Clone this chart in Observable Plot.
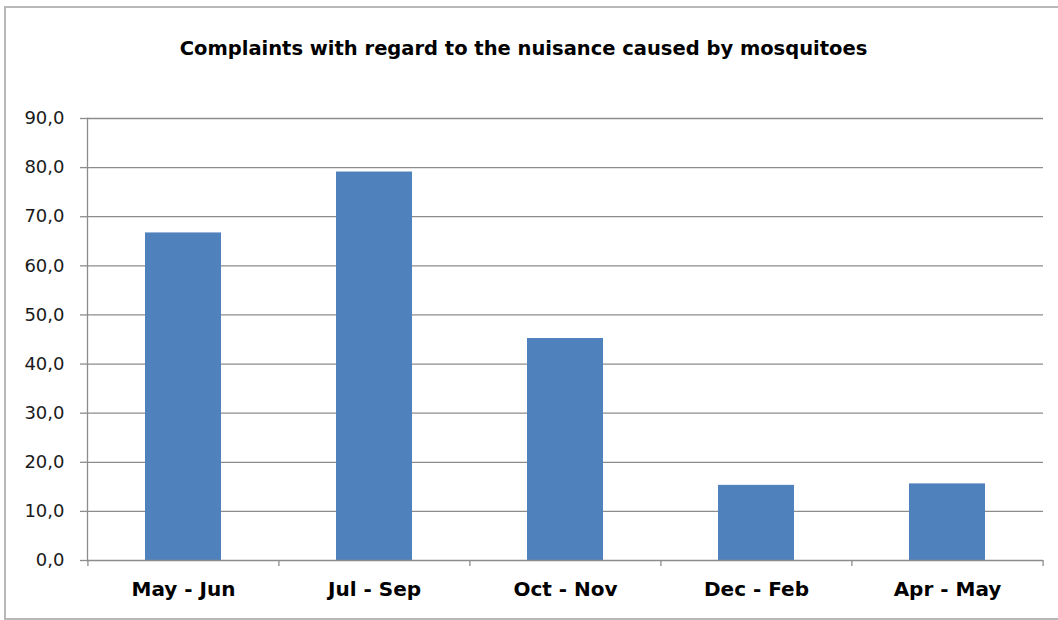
<!DOCTYPE html>
<html>
<head>
<meta charset="utf-8">
<script src="https://cdn.jsdelivr.net/npm/d3@7"></script>
<script src="https://cdn.jsdelivr.net/npm/@observablehq/plot@0.6"></script>
<style>
  html, body { margin: 0; padding: 0; background: #fff; overflow: hidden; }
  #wrap { position: relative; width: 1058px; height: 620px; overflow: hidden; background: #fff; }
  #border { position: absolute; left: 4px; top: 6px; width: 1070px; height: 614px; border: 2px solid #b8b8b8; border-right: none; box-sizing: border-box; pointer-events: none; }
  #title { height: 90px; box-sizing: border-box; padding-top: 38px; padding-right: 11px; text-align: center; font-family: "DejaVu Sans", sans-serif; font-weight: bold; font-size: 19.5px; color: #000; line-height: 22px; white-space: nowrap; }
  #chart svg { display: block; }
</style>
</head>
<body>
<div id="wrap">
  <div id="title">Complaints with regard to the nuisance caused by mosquitoes</div>
  <div id="chart"></div>
  <div id="border"></div>
</div>
<script>
const categories = ["May - Jun", "Jul - Sep", "Oct - Nov", "Dec - Feb", "Apr - May"];
const values = [66.7, 79.1, 45.2, 15.3, 15.6];
const yTicks = [0, 10, 20, 30, 40, 50, 60, 70, 80, 90];

const data = categories.map((c, i) => ({category: c, value: values[i]}));

const width = 1058, height = 530;
const marginLeft = 87, marginRight = 15, marginTop = 28, marginBottom = 60;
const step = (width - marginLeft - marginRight) / categories.length;
const fmt = d => d.toFixed(1).replace(".", ",");
const gray = "#8c8c8c";

const chart = Plot.plot({
  width, height, marginLeft, marginRight, marginTop, marginBottom,
  x: {type: "band", domain: categories, paddingInner: 0.6, paddingOuter: 0.3},
  y: {domain: [0, 90]},
  style: {background: "#fff"},
  marks: [
    Plot.ruleY(yTicks.filter(d => d > 0), {y: d => d, stroke: gray, strokeWidth: 1.3, strokeOpacity: 1}),
    Plot.barY(data, {x: "category", y: "value", fill: "#4F81BD"}),
    Plot.ruleY([0], {stroke: gray, strokeWidth: 1.3}),
    Plot.frame({anchor: "left", stroke: gray, strokeWidth: 1.3}),
    Plot.axisY({ticks: yTicks, tickFormat: fmt, tickSize: 7, tickPadding: 16, stroke: gray, strokeWidth: 1.3,
      fontFamily: "DejaVu Sans", fontSize: 18, fill: "#1a1a1a", label: null}),
    Plot.axisX({tickSize: 0, tickPadding: 21, fontFamily: "DejaVu Sans", fontWeight: "bold", fontSize: 20, fill: "#000", label: null}),
    Plot.axisX({tickSize: 6, tickFormat: null, dx: -step / 2, stroke: gray, strokeWidth: 1.3, label: null}),
    Plot.axisX({ticks: [categories[categories.length - 1]], tickSize: 6, tickFormat: null, dx: step / 2, stroke: gray, strokeWidth: 1.3, label: null})
  ]
});
document.getElementById("chart").appendChild(chart);
</script>
</body>
</html>
